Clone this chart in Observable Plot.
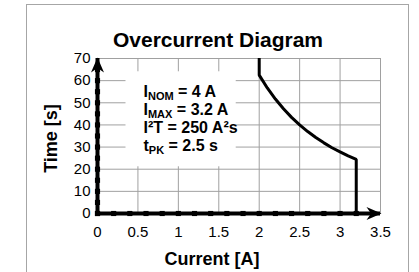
<!DOCTYPE html>
<html><head><meta charset="utf-8">
<script src="https://cdn.jsdelivr.net/npm/d3@7"></script>
<script src="https://cdn.jsdelivr.net/npm/@observablehq/plot@0.6"></script>
<style>
body{margin:0;background:#fff;font-family:"Liberation Sans",Arial,sans-serif;}
#wrap{position:relative;width:419px;height:272px;overflow:hidden;background:#fff;}
#chart{position:absolute;left:0;top:0;}
#box{position:absolute;left:26px;top:4px;width:383px;height:320px;border:1px solid #a6a6a6;box-sizing:border-box;pointer-events:none;}
</style></head><body>
<div id="wrap"><div id="chart"></div><div id="box"></div></div>
<script>
const title = "Overcurrent Diagram";
const xLabel = "Current [A]";
const yLabel = "Time [s]";
const xDomain = [0, 3.5];
const yDomain = [0, 70];
const xTicks = [0, 0.5, 1, 1.5, 2, 2.5, 3, 3.5];
const yTicks = [0, 10, 20, 30, 40, 50, 60, 70];
const xMarkers = [0, 0.2, 0.4, 0.6, 0.8, 1.0, 1.2, 1.4, 1.6, 1.8, 2.0, 2.2, 2.4, 2.6, 2.8, 3.0, 3.2];
const yMarkers = [0, 5, 10, 15, 20, 25, 30, 35, 40, 45, 50, 55, 60, 65];
const curveCurrent = [2.0, 2.0, 2.1, 2.2, 2.3, 2.4, 2.5, 2.6, 2.7, 2.8, 2.9, 3.0, 3.1, 3.2, 3.2];
const curveTime = [70, 62.5, 56.7, 51.7, 47.3, 43.4, 40.0, 37.0, 34.3, 31.9, 29.7, 27.8, 26.0, 24.4, 0];
const noteMain = ["I", "I", "I\u00b2T", "t"];
const noteSub = ["NOM", "MAX", "", "PK"];
const noteRest = [" = 4 A", " = 3.2 A", " = 250 A\u00b2s", " = 2.5 s"];

const curveData = curveCurrent.map((x, i) => ({x, y: curveTime[i]}));
const noteText = noteMain.map((m, i) => m + noteSub[i] + noteRest[i]).join("\n");

const stealth = {
  draw(ctx) {
    ctx.moveTo(0, 0);
    ctx.lineTo(6.5, 15);
    ctx.lineTo(0, 10.5);
    ctx.lineTo(-6.5, 15);
    ctx.closePath();
  }
};

const FONT = '"Liberation Sans", Arial, sans-serif';
const grid = "#a0a0a0";

const chart = Plot.plot({
  width: 419,
  height: 272,
  marginLeft: 97,
  marginRight: 39,
  marginTop: 58,
  marginBottom: 59,
  style: {fontFamily: FONT, fontSize: "15px", background: "transparent", color: "black"},
  x: {domain: xDomain, ticks: xTicks, tickSize: 0, tickPadding: 13, label: null, tickFormat: d => String(d)},
  y: {domain: yDomain, ticks: yTicks, tickSize: 0, tickPadding: 7, label: null, tickFormat: d => String(d)},
  marks: [
    Plot.ruleX(xTicks.filter(d => d > 0), {stroke: grid, strokeWidth: 1}),
    Plot.ruleY(yTicks.filter(d => d > 0), {stroke: grid, strokeWidth: 1}),
    Plot.text([noteText], {
      frameAnchor: "top-left", text: d => d, dx: 46, dy: 26, lineAnchor: "top",
      lineHeight: 1.125, fontSize: 16, fontWeight: "bold", textAnchor: "start",
      fill: "black"
    }),
    Plot.ruleY([0], {x1: () => xDomain[0], x2: () => xDomain[1], stroke: "black", strokeWidth: 4}),
    Plot.ruleX([0], {y1: () => yDomain[0], y2: () => yDomain[1], stroke: "black", strokeWidth: 4}),
    Plot.dot(xMarkers, {x: d => d, y: () => 0, symbol: "square", r: 2.9, fill: "black", stroke: "none"}),
    Plot.dot(yMarkers, {x: () => 0, y: d => d, symbol: "square", r: 2.9, fill: "black", stroke: "none"}),
    Plot.dot([xDomain[1]], {x: d => d, y: () => 0, symbol: stealth, rotate: 90, fill: "black", stroke: "none", dx: 1}),
    Plot.dot([yDomain[1]], {x: () => 0, y: d => d, symbol: stealth, rotate: 0, fill: "black", stroke: "none", dy: -1}),
    Plot.line(curveData, {x: "x", y: "y", stroke: "black", strokeWidth: 3, strokeLinejoin: "miter", clip: true}),
    Plot.text([title], {frameAnchor: "top", lineAnchor: "middle", text: d => d, dx: -21, dy: -18.4, fontSize: 21, fontWeight: "bold", fill: "black"}),
    Plot.text([xLabel], {frameAnchor: "bottom", lineAnchor: "middle", text: d => d, dx: -27, dy: 46, fontSize: 18, fontWeight: "bold", fill: "black"}),
    Plot.text([yLabel], {frameAnchor: "left", lineAnchor: "middle", textAnchor: "middle", text: d => d, dx: -46, dy: 2.5, rotate: -90, fontSize: 18, fontWeight: "bold", fill: "black"})
  ]
});
document.getElementById("chart").append(chart);

// sub-scripts and white note box
const NS = "http://www.w3.org/2000/svg";
const textEl = Array.from(chart.querySelectorAll("text")).find(t => t.textContent.indexOf(noteMain[0] + noteSub[0]) === 0);
if (textEl) {
  const noteG = textEl.parentNode;
  let lines = Array.from(textEl.querySelectorAll("tspan"));
  if (lines.length < noteMain.length) {
    textEl.textContent = "";
    lines = noteMain.map((_, i) => {
      const t = document.createElementNS(NS, "tspan");
      t.setAttribute("x", "0");
      t.setAttribute("dy", i ? "1.125em" : "0.71em");
      textEl.append(t);
      return t;
    });
  }
  lines.forEach((tsp, i) => {
    tsp.textContent = "";
    const a = document.createElementNS(NS, "tspan");
    a.textContent = noteMain[i];
    tsp.append(a);
    if (noteSub[i]) {
      const s = document.createElementNS(NS, "tspan");
      s.textContent = noteSub[i];
      s.setAttribute("font-size", "11");
      s.setAttribute("dy", "3");
      tsp.append(s);
      const r = document.createElementNS(NS, "tspan");
      r.textContent = noteRest[i];
      r.setAttribute("dy", "-3");
      tsp.append(r);
    } else {
      const r = document.createElementNS(NS, "tspan");
      r.textContent = noteRest[i];
      tsp.append(r);
    }
  });
  const bb = textEl.getBBox();
  const rect = document.createElementNS(NS, "rect");
  rect.setAttribute("x", bb.x - 18);
  rect.setAttribute("y", bb.y - 12);
  rect.setAttribute("width", bb.width + 16);
  rect.setAttribute("height", bb.height + 22);
  rect.setAttribute("fill", "white");
  const tr = textEl.getAttribute("transform");
  if (tr) rect.setAttribute("transform", tr);
  noteG.insertBefore(rect, textEl);
}
</script>
</body></html>
